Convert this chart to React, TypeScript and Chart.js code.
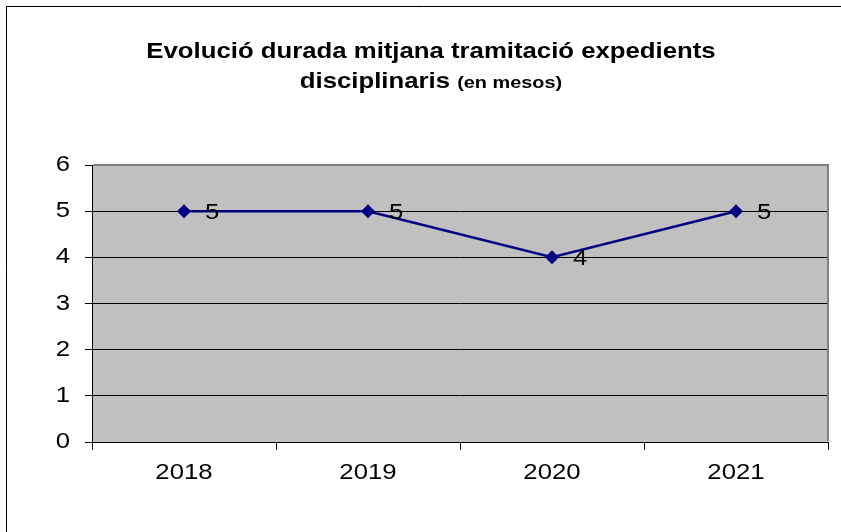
import React, { useEffect, useRef } from 'react';
import { Chart, registerables } from 'chart.js';

Chart.register(...registerables);

const categories = ['2018', '2019', '2020', '2021'];
const values = [5, 5, 4, 5];
const yMin = 0;
const yMax = 6;
const yStep = 1;
const titleLine1 = 'Evolució durada mitjana tramitació expedients';
const titleLine2Main = 'disciplinaris';
const titleLine2Sub = '(en mesos)';

const SX = 1.17; // horizontal stretch of the reference text
const FONT = '"Liberation Sans", Arial, sans-serif';

export default function App() {
  const ref = useRef<HTMLCanvasElement>(null);

  useEffect(() => {
    const canvas = ref.current!;
    const ctx = canvas.getContext('2d')!;
    const orig = ctx.fillText.bind(ctx);
    (ctx as any).fillText = (t: string, x: number, y: number, mw?: number) => {
      ctx.save();
      ctx.translate(x, y);
      ctx.scale(SX, 1);
      if (mw === undefined || mw === null) orig(t, 0, 0);
      else orig(t, 0, 0, mw / SX);
      ctx.restore();
    };

    const bgPlugin = {
      id: 'bg',
      beforeDraw(chart: any) {
        const c = chart.ctx;
        const a = chart.chartArea;
        c.save();
        c.fillStyle = '#ffffff';
        c.fillRect(0, 0, chart.width, chart.height);
        c.fillStyle = '#C0C0C0';
        c.fillRect(a.left, a.top, a.right - a.left, a.bottom - a.top);
        c.strokeStyle = '#000000';
        c.lineWidth = 1;
        c.beginPath();
        c.moveTo(6.5, chart.height);
        c.lineTo(6.5, 6.5);
        c.lineTo(chart.width, 6.5);
        c.stroke();
        c.restore();
      },
    };

    const framePlugin = {
      id: 'frame',
      beforeDatasetsDraw(chart: any) {
        const c = chart.ctx;
        const a = chart.chartArea;
        c.save();
        c.strokeStyle = '#808080';
        c.lineWidth = 2;
        c.beginPath();
        c.moveTo(a.left + 1, a.top);
        c.lineTo(a.right, a.top);
        c.lineTo(a.right, a.bottom - 1);
        c.stroke();
        c.restore();
      },
    };

    const labelPlugin = {
      id: 'valueLabels',
      afterDatasetsDraw(chart: any) {
        const c = chart.ctx;
        const meta = chart.getDatasetMeta(0);
        c.save();
        c.font = `22px ${FONT}`;
        c.fillStyle = '#000000';
        c.textAlign = 'left';
        c.textBaseline = 'middle';
        meta.data.forEach((pt: any, i: number) => {
          c.fillText(String(values[i]), pt.x + 21, pt.y + 2);
        });
        c.restore();
      },
    };

    const titlePlugin = {
      id: 'mixedTitle',
      afterDraw(chart: any) {
        const c = chart.ctx;
        const cx = 431;
        const mainFont = `bold 22px ${FONT}`;
        const subFont = `bold 17px ${FONT}`;
        c.save();
        c.fillStyle = '#000000';
        c.textBaseline = 'alphabetic';
        c.font = mainFont;
        c.textAlign = 'center';
        c.fillText(titleLine1, cx, 58);
        const mainText = titleLine2Main + ' ';
        c.font = mainFont;
        const w1 = c.measureText(mainText).width * SX;
        c.font = subFont;
        const w2 = c.measureText(titleLine2Sub).width * SX;
        const start = cx - (w1 + w2) / 2;
        c.textAlign = 'left';
        c.font = mainFont;
        c.fillText(mainText, start, 88);
        c.font = subFont;
        c.fillText(titleLine2Sub, start + w1, 88);
        c.restore();
      },
    };

    const chart = new Chart(canvas, {
      type: 'line',
      data: {
        labels: categories,
        datasets: [
          {
            data: values,
            borderColor: '#000080',
            backgroundColor: '#000080',
            borderWidth: 2.5,
            pointStyle: 'rectRot',
            pointRadius: 7,
            pointBorderWidth: 0,
            pointBackgroundColor: '#000080',
            tension: 0,
            fill: false,
          },
        ],
      },
      options: {
        responsive: true,
        maintainAspectRatio: false,
        animation: false,
        events: [],
        layout: { padding: { top: 165, right: 13, left: 0, bottom: 0 } },
        plugins: {
          legend: { display: false },
          tooltip: { enabled: false },
          title: { display: false },
        },
        scales: {
          x: {
            type: 'category',
            offset: true,
            grid: {
              offset: true,
              drawOnChartArea: false,
              drawTicks: true,
              tickLength: 8,
              color: '#000000',
              lineWidth: 1,
            },
            border: { color: '#000000', width: 1 },
            ticks: {
              font: { family: FONT, size: 22 },
              color: '#000000',
              padding: 10,
              maxRotation: 0,
              autoSkip: false,
            },
            afterFit(scale: any) {
              scale.height = 90;
            },
          },
          y: {
            min: yMin,
            max: yMax,
            grid: {
              color: '#000000',
              lineWidth: 1,
              tickLength: 7,
            },
            border: { color: '#000000', width: 1 },
            ticks: {
              stepSize: yStep,
              font: { family: FONT, size: 22 },
              color: '#000000',
              padding: 15,
            },
            afterFit(scale: any) {
              scale.width = 92;
            },
          },
        },
      },
      plugins: [bgPlugin, framePlugin, labelPlugin, titlePlugin],
    });

    return () => {
      chart.destroy();
    };
  }, []);

  return (
    <div style={{ position: 'absolute', left: 0, top: 0, width: 841, height: 532 }}>
      <canvas ref={ref} />
    </div>
  );
}
